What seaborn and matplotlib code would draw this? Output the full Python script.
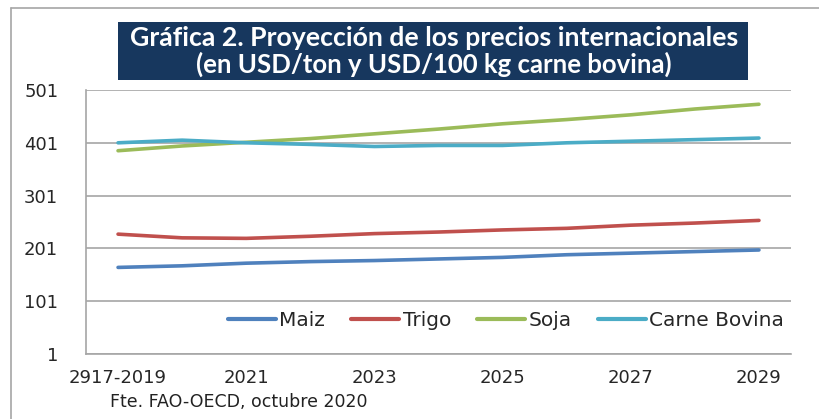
import pandas as pd
import matplotlib.pyplot as plt
import matplotlib.patches as patches
import matplotlib.lines as mlines
import seaborn as sns

# Data
years = ["2917-2019", "2020", "2021", "2022", "2023", "2024",
         "2025", "2026", "2027", "2028", "2029"]
maiz = [165, 168, 173, 176, 178, 181, 184, 189, 192, 195, 198]
trigo = [228, 221, 220, 224, 229, 232, 236, 239, 245, 249, 254]
soja = [386, 395, 402, 409, 418, 427, 437, 445, 454, 465, 474]
carne = [401, 406, 401, 398, 394, 396, 396, 401, 404, 407, 410]
series_names = ["Maiz", "Trigo", "Soja", "Carne Bovina"]
colors = ["#4F81BD", "#C0504D", "#9BBB59", "#4BACC6"]
y_ticks = [1, 101, 201, 301, 401, 501]

# Long-form table for seaborn
df = pd.DataFrame({
    "idx": list(range(len(years))) * 4,
    "valor": maiz + trigo + soja + carne,
    "serie": [n for n in series_names for _ in years],
})

sns.set_style("white")
plt.rcParams["font.family"] = ["DejaVu Sans"]

fig = plt.figure(figsize=(8.2, 4.19), dpi=100)

# outer frame of the original chart (top and left edges only)
fx, fy = 11 / 820, 1 - 8 / 419
fig.lines.append(mlines.Line2D([fx, 1.0], [fy, fy], transform=fig.transFigure,
                               color="#A6A6A6", linewidth=1.2))
fig.lines.append(mlines.Line2D([fx, fx], [0.0, fy], transform=fig.transFigure,
                               color="#A6A6A6", linewidth=1.2))

ax = fig.add_axes([86 / 820, 65 / 419, 705 / 820, 264 / 419])
sns.lineplot(data=df, x="idx", y="valor", hue="serie", palette=colors,
             linewidth=2.6, ax=ax, solid_capstyle="round")

ax.set_xlim(-0.5, len(years) - 0.5)
ax.set_ylim(1, 501)
ax.set_yticks(y_ticks)
ax.set_yticklabels([str(v) for v in y_ticks], fontsize=13)
ax.set_xticks(range(0, len(years), 2))
ax.set_xticklabels([years[i] for i in range(0, len(years), 2)], fontsize=13)
ax.tick_params(axis="y", length=0, pad=20)
ax.tick_params(axis="x", length=0, pad=11)
ax.set_xlabel("")
ax.set_ylabel("")

ax.grid(axis="y", color="#A6A6A6", linewidth=1.2)
ax.set_axisbelow(True)
for side in ["top", "right"]:
    ax.spines[side].set_visible(False)
for side in ["left", "bottom"]:
    ax.spines[side].set_color("#A6A6A6")
    ax.spines[side].set_linewidth(1.2)

leg = ax.legend(loc="center right", bbox_to_anchor=(1.01, 0.125), ncol=4,
                frameon=False, fontsize=14.5, handlelength=2.4,
                handletextpad=0.15, columnspacing=1.3, borderpad=0.2)
for line in leg.get_lines():
    line.set_linewidth(3)

# title box
fig.patches.append(patches.Rectangle((118 / 820, 1 - 80 / 419), 630 / 820, 58 / 419,
                                     transform=fig.transFigure,
                                     facecolor="#17375E", edgecolor="none"))
fig.text(434 / 820, 1 - 38 / 419, "Gráfica 2. Proyección de los precios internacionales",
         ha="center", va="center", color="white", fontsize=19.2, fontweight="bold",
         family=["Lato", "DejaVu Sans"])
fig.text(434 / 820, 1 - 64 / 419, "(en USD/ton y USD/100 kg carne bovina)",
         ha="center", va="center", color="white", fontsize=18.5, fontweight="bold",
         family=["Lato", "DejaVu Sans"])

fig.text(110 / 820, 1 - 402 / 419, "Fte. FAO-OECD, octubre 2020",
         ha="left", va="center", fontsize=12.5, color="#222222")

fig.savefig("out.png", dpi=100)
